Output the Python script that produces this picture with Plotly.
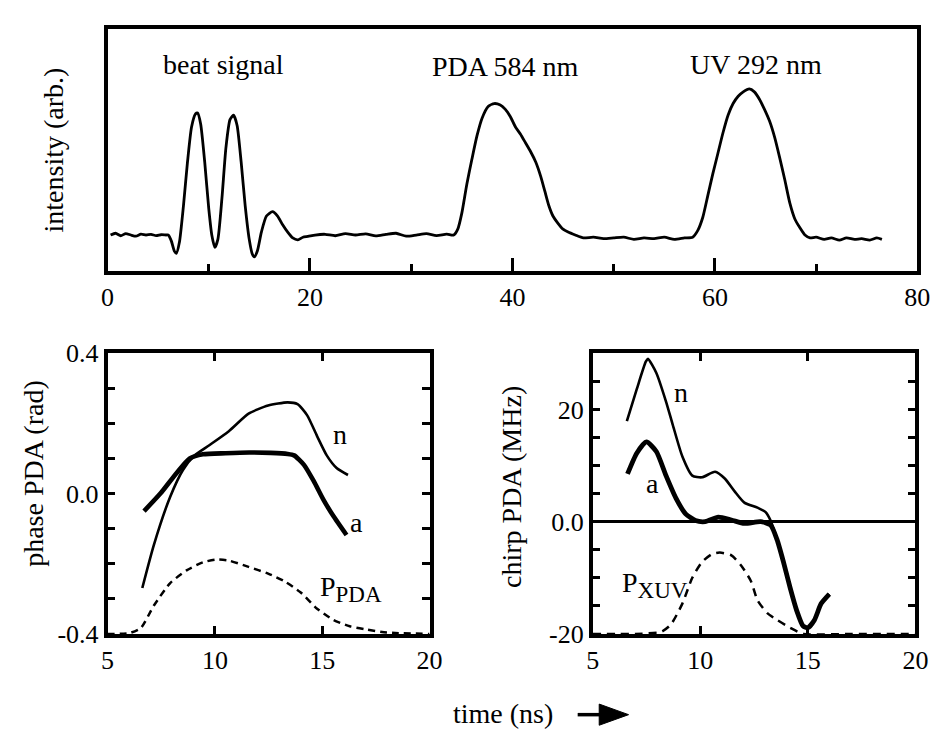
import plotly.graph_objects as go

# ---------------- data ----------------
# top panel: oscilloscope trace (time in ns, intensity arb.)
top_t = [0.3, 0.8, 1.3, 1.8, 2.3, 2.8, 3.3, 3.8, 4.3, 4.8, 5.3, 5.8,
         6.0, 6.3, 6.6, 6.8, 7.1, 7.5, 7.9, 8.3, 8.7, 8.9, 9.2, 9.6, 10.0, 10.3, 10.6, 10.9,
         11.3, 11.7, 12.1, 12.45, 12.8, 13.2, 13.6, 14.0, 14.3, 14.5, 14.8, 15.2, 15.7, 16.3,
         16.8, 17.3, 17.8, 18.3, 18.8, 19.3, 19.8,
         20.5, 21.5, 22.5, 23.5, 24.5, 25.5, 26.5, 27.5, 28.5, 29.5, 30.5, 31.5, 32.5, 33.5, 34.2,
         34.6, 35.0, 35.5, 36.0, 36.5, 37.0, 37.6, 38.2, 38.8, 39.3, 39.8, 40.3, 40.8, 41.3,
         41.8, 42.3, 42.8, 43.2, 43.6, 44.0, 44.5, 45.0, 45.5, 46.2,
         47.0, 48.0, 49.0, 50.0, 51.0, 52.0, 53.0, 54.0, 55.0, 56.0, 57.0, 57.8,
         58.3, 58.8, 59.3, 59.8, 60.3, 60.8, 61.3, 61.8, 62.3, 62.8, 63.4, 63.9, 64.4, 64.9,
         65.4, 65.9, 66.4, 66.9, 67.4, 67.9, 68.4, 68.9, 69.4,
         70.0, 70.8, 71.5, 72.3, 73.0, 73.8, 74.5, 75.3, 76.0, 76.5]
top_i = [0.0, 0.012, -0.005, 0.01, 0.0, -0.008, 0.006, 0.0, 0.004, -0.004, 0.002, 0.0,
         0.0, -0.04, -0.11, -0.125, -0.05, 0.2, 0.5, 0.74, 0.83, 0.835, 0.76, 0.5, 0.18, 0.0, -0.085, -0.03,
         0.25, 0.6, 0.79, 0.82, 0.75, 0.5, 0.2, -0.03, -0.13, -0.15, -0.11, 0.02, 0.13, 0.16,
         0.13, 0.07, 0.02, -0.02, -0.033, -0.015, -0.01,
         0.0, 0.005, -0.005, 0.01, 0.0, 0.008, -0.006, 0.004, 0.012, -0.008, 0.0, 0.01, -0.004, 0.006, 0.0,
         0.04, 0.15, 0.35, 0.52, 0.68, 0.8, 0.88, 0.9, 0.89, 0.86, 0.81, 0.74, 0.69, 0.63,
         0.57, 0.5, 0.4, 0.3, 0.2, 0.13, 0.08, 0.04, 0.02, 0.0,
         -0.02, -0.015, -0.025, -0.02, -0.015, -0.03, -0.02, -0.025, -0.015, -0.03, -0.02, -0.015,
         0.03, 0.12, 0.27, 0.42, 0.56, 0.7, 0.82, 0.9, 0.95, 0.98, 1.0, 0.98, 0.93, 0.86,
         0.78, 0.67, 0.53, 0.38, 0.22, 0.11, 0.05, 0.0, -0.02,
         -0.015, -0.03, -0.02, -0.035, -0.02, -0.03, -0.025, -0.035, -0.02, -0.03]

# bottom-left: phase PDA (rad)
phase_n_t = [6.62, 7.16, 7.92, 8.52, 9.06, 9.74, 10.65, 11.57, 12.48, 13.39, 13.85, 14.3, 14.76, 15.21, 15.67, 16.2]
phase_n = [-0.269, -0.146, -0.009, 0.068, 0.109, 0.138, 0.178, 0.228, 0.251, 0.26, 0.255, 0.223, 0.164, 0.109, 0.073, 0.053]
phase_a_t = [6.7, 7.46, 8.22, 8.83, 9.44, 10.5, 11.6, 12.6, 13.39, 13.69, 14.15, 14.6, 15.06, 15.52, 16.13]
phase_a = [-0.05, 0.0, 0.059, 0.1, 0.112, 0.115, 0.117, 0.116, 0.113, 0.109, 0.082, 0.036, -0.018, -0.064, -0.118]
p_pda_t = [5.0, 6.0, 6.55, 7.16, 7.92, 8.68, 9.44, 10.04, 10.65, 11.57, 12.48, 13.24, 14.0, 14.76, 15.52, 16.28, 17.04, 18.0, 20.0]
p_pda = [-0.4, -0.398, -0.383, -0.319, -0.255, -0.219, -0.196, -0.188, -0.191, -0.209, -0.228, -0.25, -0.282, -0.328, -0.36, -0.378, -0.387, -0.396, -0.4]

# bottom-right: chirp PDA (MHz)
chirp_n_t = [6.59, 7.05, 7.47, 7.57, 7.96, 8.41, 8.72, 9.17, 9.63, 10.08, 10.69, 11.14, 11.6, 12.05, 12.66, 13.04, 13.27,
             13.57, 13.87, 14.18, 14.48, 14.78, 15.0, 15.31, 15.62, 16.0]
chirp_n = [17.9, 23.6, 28.5, 29.0, 26.5, 21.4, 17.3, 11.6, 8.2, 7.9, 8.9, 7.7, 5.4, 3.4, 2.5, 1.7, 0.2,
           -3.2, -7.2, -11.8, -15.8, -18.6, -18.9, -17.5, -14.6, -12.9]
chirp_a_t = [6.62, 7.05, 7.5, 7.96, 8.41, 8.87, 9.32, 9.78, 10.23, 10.84, 11.45, 12.05, 12.81, 13.27,
             13.57, 13.87, 14.18, 14.48, 14.78, 15.0, 15.31, 15.62, 16.0]
chirp_a = [8.5, 12.2, 14.2, 12.5, 8.2, 4.2, 1.4, 0.2, 0.0, 0.8, 0.3, -0.3, 0.0, -0.6,
           -3.2, -7.2, -11.8, -15.8, -18.6, -18.9, -17.5, -14.6, -12.9]
p_xuv_t = [5.0, 7.0, 8.2, 8.64, 9.17, 9.63, 10.08, 10.54, 10.91, 11.45, 11.9, 12.36, 12.66, 13.12, 13.57, 14.18, 14.8, 17.0, 20.0]
p_xuv = [-20.0, -20.0, -19.6, -18.3, -14.6, -10.0, -7.2, -5.8, -5.5, -6.0, -7.8, -10.6, -14.0, -16.3, -17.5, -18.9, -20.0, -20.0, -20.0]

top_ticks = [0, 20, 40, 60, 80]
top_minor = [10, 30, 50, 70]
phase_ticks = [-0.4, 0.0, 0.4]
phase_ticktext = ["-0.4", "0.0", "0.4"]
phase_minor = [-0.3, -0.2, -0.1, 0.1, 0.2, 0.3]
chirp_ticks = [-20, 0, 20]
chirp_ticktext = ["-20", "0.0", "20"]
chirp_minor = [-15, -10, -5, 5, 10, 15, 25, 30]
time_ticks = [5, 10, 15, 20]

# ---------------- figure ----------------
W, H = 946, 746
FONT = "Liberation Serif"
fig = go.Figure()

def line(x, y, xa, ya, width, dash="solid"):
    fig.add_trace(go.Scatter(x=x, y=y, xaxis=xa, yaxis=ya, mode="lines",
                             line=dict(color="black", width=width, dash=dash, shape="spline", smoothing=0.6),
                             showlegend=False, hoverinfo="skip"))

line(top_t, top_i, "x", "y", 2.8)
line(p_pda_t, p_pda, "x2", "y2", 2.5, "7px,5px")
line(phase_n_t, phase_n, "x2", "y2", 2.6)
line(phase_a_t, phase_a, "x2", "y2", 4.6)
line(p_xuv_t, p_xuv, "x3", "y3", 2.5, "8px,6px")
line(chirp_n_t, chirp_n, "x3", "y3", 2.6)
line(chirp_a_t, chirp_a, "x3", "y3", 4.8)

def px(v):
    return v / W

def py(v):
    return 1 - v / H

ax_common = dict(showline=True, linecolor="black", linewidth=3.5, showgrid=False,
                 tickfont=dict(family=FONT, size=26, color="black"), ticks="inside",
                 tickcolor="black", tickwidth=3)

def minor(vals, ln=8):
    return dict(tickvals=vals, ticks="inside", ticklen=ln, tickwidth=3, tickcolor="black", showgrid=False)

top_dom_y = [py(267.5), py(15.5)]
bot_dom_y = [py(645), py(353)]

fig.update_layout(
    width=W, height=H, margin=dict(l=0, r=0, t=0, b=0),
    paper_bgcolor="white", plot_bgcolor="white", showlegend=False,
    xaxis=dict(domain=[px(102.7), px(930)], range=[0, 80], tickvals=top_ticks, ticklen=13,
               mirror=True, zeroline=False, anchor="y", minor=minor(top_minor, 7), **ax_common),
    yaxis=dict(domain=top_dom_y, range=[-0.247, 1.411], showticklabels=False, ticks="", mirror=True,
               zeroline=False, anchor="x", showline=True, linecolor="black", linewidth=3.5, showgrid=False),
    xaxis2=dict(domain=[px(102.7), px(431.7)], range=[5, 20], tickvals=time_ticks, ticklen=8,
                mirror="allticks", zeroline=False, anchor="y2", **ax_common),
    yaxis2=dict(domain=bot_dom_y, range=[-0.4, 0.4], tickvals=phase_ticks, ticktext=phase_ticktext,
                ticklen=8, mirror="allticks", zeroline=False, anchor="x2", minor=minor(phase_minor),
                **ax_common),
    xaxis3=dict(domain=[px(598.3), px(928)], range=[5, 20], tickvals=time_ticks, ticklen=8,
                mirror="allticks", zeroline=False, anchor="y3", **ax_common),
    yaxis3=dict(domain=bot_dom_y, range=[-20, 30], tickvals=chirp_ticks, ticktext=chirp_ticktext,
                ticklen=8, mirror="allticks", zeroline=True, zerolinecolor="black", zerolinewidth=3,
                anchor="x3", minor=minor(chirp_minor), **ax_common),
)

tf = dict(family=FONT, size=28, color="black")
C = dict(showarrow=False, font=tf, xanchor="center", yanchor="middle")
ann = []
# top panel labels
ann.append(dict(x=px(220.8), y=py(53), xref="paper", yref="paper", text="beat signal", **C))
ann.append(dict(x=px(509), y=py(55), xref="paper", yref="paper", text="PDA 584 nm", **C))
ann.append(dict(x=px(765), y=py(53), xref="paper", yref="paper", text="UV 292 nm", **C))
# axis titles
ann.append(dict(x=px(48), y=py(141), xref="paper", yref="paper", text="intensity (arb.)", textangle=-90, **C))
ann.append(dict(x=px(27), y=py(478), xref="paper", yref="paper", text="phase PDA (rad)", textangle=-90, **C))
ann.append(dict(x=px(516), y=py(492), xref="paper", yref="paper", text="chirp PDA (MHz)", textangle=-90, **C))
ann.append(dict(x=px(507), y=py(728), xref="paper", yref="paper", text="time (ns)", **C))
# curve labels
SUB = "<sub><span style='font-size:23px'>%s</span></sub>"
ann.append(dict(x=15.82, y=0.169, xref="x2", yref="y2", text="n", **C))
ann.append(dict(x=16.58, y=-0.082, xref="x2", yref="y2", text="a", **C))
ann.append(dict(x=16.35, y=-0.272, xref="x2", yref="y2", text="P" + SUB % "PDA", **C))
ann.append(dict(x=9.1, y=23.1, xref="x3", yref="y3", text="n", **C))
ann.append(dict(x=7.8, y=6.8, xref="x3", yref="y3", text="a", **C))
ann.append(dict(x=7.88, y=-11.2, xref="x3", yref="y3", text="P" + SUB % "XUV", **C))
fig.update_layout(annotations=ann)

# arrow after "time (ns)"
fig.add_shape(type="line", xref="paper", yref="paper", x0=px(583), x1=px(612), y0=py(729), y1=py(729),
              line=dict(color="black", width=3.5))
fig.add_shape(type="path", xref="paper", yref="paper",
              path=f"M {px(605)} {py(718)} L {px(635)} {py(729)} L {px(605)} {py(740)} Z",
              fillcolor="black", line=dict(color="black", width=1))

fig.write_html("out.html", config={"displayModeBar": False},
               post_script="document.body.style.margin='0';document.body.style.overflow='hidden';")
